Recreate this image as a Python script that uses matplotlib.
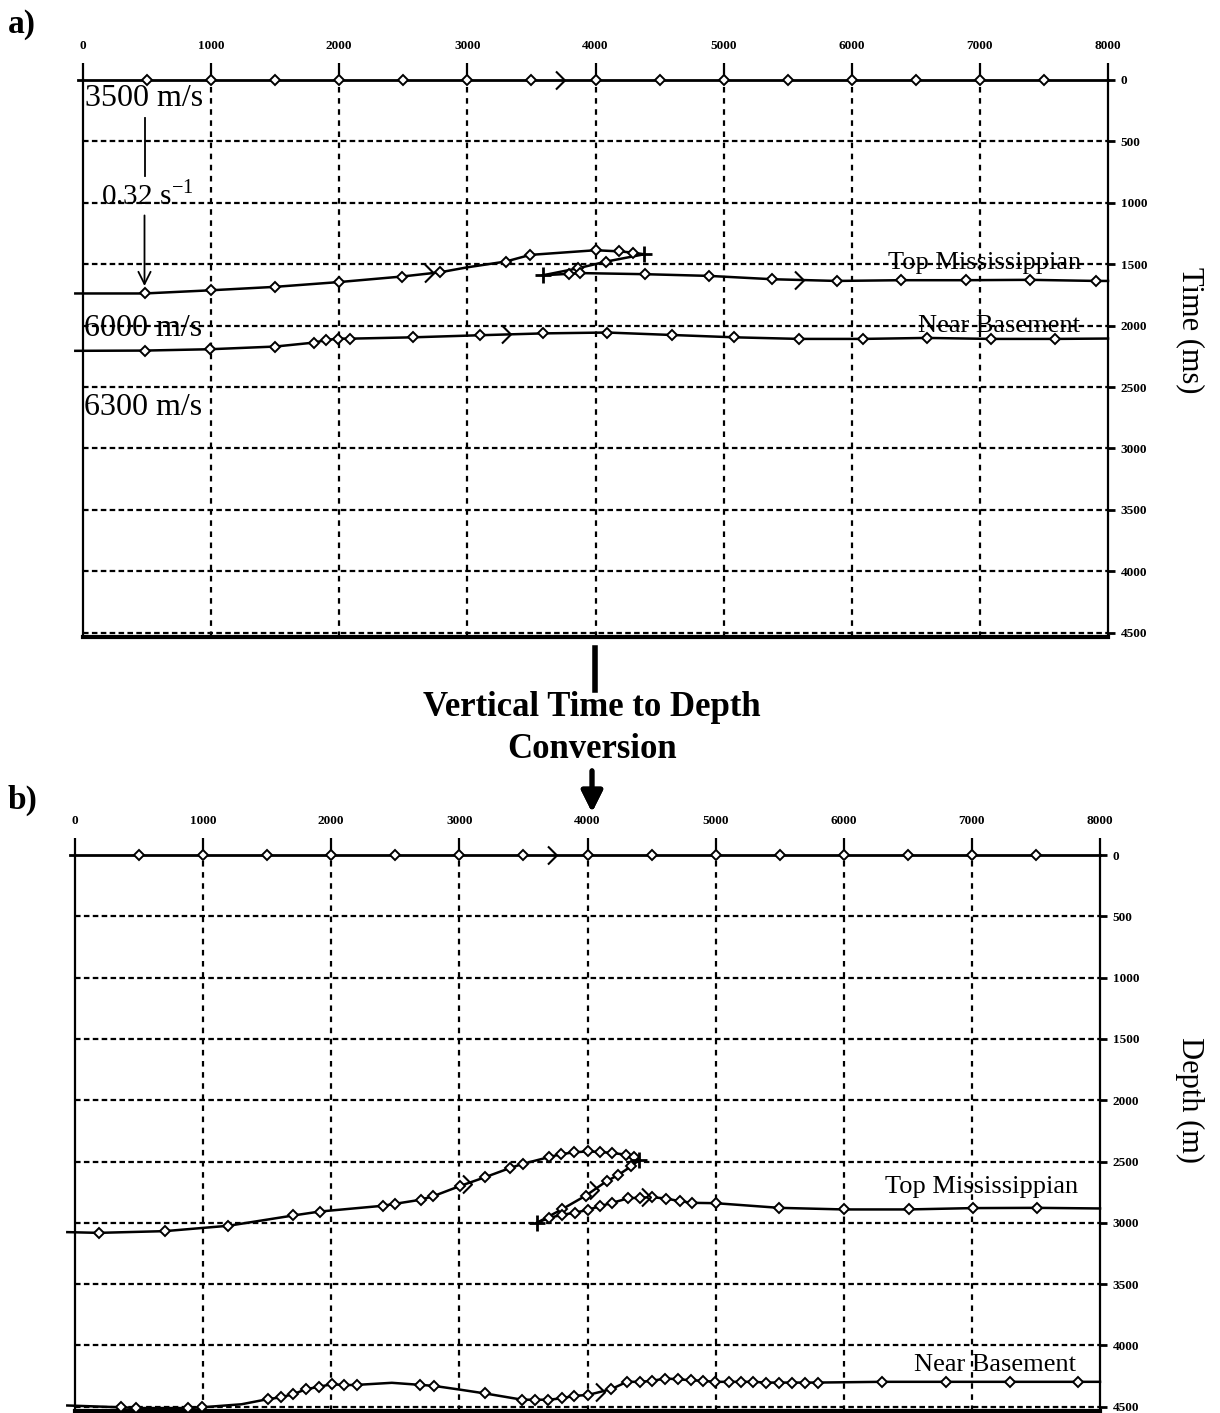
import numpy as np
import matplotlib
matplotlib.use("Agg")
import matplotlib.pyplot as plt
from matplotlib.path import Path
from matplotlib.lines import Line2D

plt.rcParams['font.family'] = ['Liberation Serif', 'DejaVu Serif']
plt.rcParams['mathtext.fontset'] = 'stix'

# ---- horizon picks, panel a (two-way time, ms) ----
surf_x = [-40, 8000]
surf_z = [0, 0]
surf_mk_x = [500, 1000, 1500, 2000, 2500, 3000, 3500, 4000, 4500, 5000, 5500, 6000, 6500, 7000, 7500]

tma_up_x = [-60, 480, 1000, 1500, 2000, 2490, 2790, 3000, 3300, 3490, 4000, 4180, 4290, 4380]
tma_up_t = [1738, 1738, 1712, 1684, 1645, 1600, 1565, 1525, 1478, 1424, 1386, 1395, 1405, 1419]
tma_diag_x = [4380, 4085, 3866, 3590]
tma_diag_t = [1419, 1478, 1532, 1590]
tma_lo_x = [3590, 3790, 3880, 4385, 4888, 5379, 5882, 6388, 6894, 7391, 7910, 8000]
tma_lo_t = [1590, 1578, 1572, 1581, 1595, 1622, 1636, 1630, 1630, 1627, 1636, 1636]

nba_x = [-60, 480, 994, 1502, 1803, 1895, 1988, 2080, 2578, 3102, 3594, 4090, 4596, 5084,
         5590, 6087, 6584, 7087, 7590, 8000]
nba_t = [2205, 2203, 2192, 2170, 2138, 2118, 2105, 2106, 2095, 2078, 2063, 2056, 2076, 2095,
         2108, 2108, 2100, 2108, 2108, 2105]

chev_a_x = [3720, 2700, 5590, 3300]
chev_a_t = [0, 1575, 1632, 2072]
tips_a_x = [4380, 3590]
tips_a_t = [1419, 1590]

# ---- horizon picks, panel b (depth, m) ----
tmb_up_x = [-60, 184, 700, 1198, 1705, 1911, 2403, 2498, 2697, 2796, 3002, 3201, 3398, 3496,
            3696, 3794, 3896, 4000, 4099, 4195, 4299, 4364, 4403]
tmb_up_d = [3076, 3082, 3068, 3024, 2940, 2908, 2861, 2845, 2812, 2783, 2701, 2628, 2552, 2519,
            2465, 2440, 2425, 2418, 2422, 2431, 2444, 2464, 2486]
tmb_diag_x = [4403, 4340, 4240, 4150, 3987, 3800, 3605]
tmb_diag_d = [2486, 2540, 2610, 2660, 2778, 2890, 3000]
tmb_lo_x = [3605, 3700, 3800, 3900, 4000, 4099, 4193, 4317, 4410, 4503, 4612, 4720, 4814, 5000,
            5497, 6000, 6506, 7009, 7505, 8000]
tmb_lo_d = [3000, 2960, 2935, 2918, 2895, 2864, 2837, 2800, 2795, 2791, 2802, 2823, 2837, 2840,
            2878, 2891, 2891, 2880, 2878, 2883]

nbb_x = [-60, 360, 479, 881, 991, 1300, 1506, 1604, 1705, 1804, 1902, 2006, 2101, 2199, 2473,
         2696, 2801, 3000, 3202, 3491, 3589, 3693, 3798, 3896, 4000, 4185, 4307, 4413, 4503,
         4608, 4705, 4804, 4904, 4994, 5105, 5196, 5295, 5392, 5497, 5596, 5699, 5798, 6295,
         6801, 7295, 7825, 8000]
nbb_d = [4490, 4505, 4511, 4511, 4505, 4480, 4438, 4424, 4397, 4357, 4338, 4316, 4324, 4322, 4305,
         4322, 4330, 4360, 4392, 4443, 4443, 4443, 4432, 4411, 4405, 4357, 4297, 4297, 4289,
         4270, 4276, 4284, 4289, 4297, 4297, 4297, 4297, 4303, 4303, 4303, 4303, 4303, 4297,
         4297, 4297, 4297, 4297]
nbb_plain = [0, 5, 14, 17, 46]

chev_b_x = [3720, 3060, 4050, 4460, 4100]
chev_b_d = [0, 2680, 2735, 2792, 4378]
tips_b_x = [4403, 3605]
tips_b_d = [2486, 3000]

xticks = [0, 1000, 2000, 3000, 4000, 5000, 6000, 7000, 8000]
yticks = [0, 500, 1000, 1500, 2000, 2500, 3000, 3500, 4000, 4500]

chevron = Path([(-0.5, 1.0), (0.5, 0.0), (-0.5, -1.0)],
               [Path.MOVETO, Path.LINETO, Path.LINETO])

pick_style = dict(ls='', marker='D', ms=5.5, mfc='white', mec='k', mew=1.4,
                  clip_on=False, zorder=4)


def horizon(ax, x, z, marks=None):
    n = len(x)
    if marks is None:
        marks = list(range(1, n - 1))
    ax.plot(x, z, color='k', lw=1.8, clip_on=False, zorder=3)
    ax.plot([x[i] for i in marks], [z[i] for i in marks], **pick_style)


def frame(ax):
    ax.set_xlim(0, 8000)
    ax.set_ylim(4535, 0)
    for v in xticks[1:-1]:
        ax.axvline(v, color='k', lw=1.6, ls=(0, (2.5, 2.5)), zorder=1)
    for v in yticks[1:]:
        ax.axhline(v, color='k', lw=1.6, ls=(0, (2.5, 1.5)), zorder=1)
    ax.set_xticks(xticks)
    ax.set_yticks(yticks)
    ax.xaxis.tick_top()
    ax.yaxis.tick_right()
    ax.tick_params(axis='x', direction='out', length=12, width=1.6, pad=8, labelsize=9.5)
    ax.tick_params(axis='y', direction='out', length=5, width=2, pad=4, labelsize=9.5)
    for lab in ax.get_xticklabels() + ax.get_yticklabels():
        lab.set_fontweight('bold')
    ax.spines['top'].set_visible(False)
    ax.spines['left'].set_linewidth(1.6)
    ax.spines['right'].set_linewidth(1.6)
    ax.spines['bottom'].set_linewidth(3)
    # surface line with picks
    ax.plot(surf_x, surf_z, color='k', lw=2, clip_on=False, zorder=3)
    ax.plot(surf_mk_x, [0] * len(surf_mk_x), **pick_style)


fig = plt.figure(figsize=(12.2, 14.13), dpi=100)
W, H = 1220, 1413

# ---- panel a: time section ----
axa = fig.add_axes([83 / W, 1 - 637 / H, 1025 / W, 557 / H])
frame(axa)
horizon(axa, tma_up_x, tma_up_t, marks=[1, 2, 3, 4, 5, 6, 8, 9, 10, 11, 12])
horizon(axa, tma_diag_x, tma_diag_t)
horizon(axa, tma_lo_x, tma_lo_t)
horizon(axa, nba_x, nba_t)
axa.plot(chev_a_x, chev_a_t, ls='', marker=chevron, ms=13, mfc='none', mec='k', mew=1.5,
         zorder=5, clip_on=False)
axa.plot(tips_a_x, tips_a_t, ls='', marker='+', ms=12, mec='k', mew=2, zorder=5)

axa.text(15, 150, '3500 m/s', fontsize=23, ha='left', va='center')
axa.plot([480, 480], [310, 780], color='k', lw=1.3)
axa.text(140, 950, '0.32 s$^{\\mathregular{-1}}$', fontsize=21, ha='left', va='center')
axa.annotate('', xy=(480, 1700), xytext=(480, 1080),
             arrowprops=dict(arrowstyle='->', lw=1.3, mutation_scale=22, color='k'))
axa.text(10, 2025, '6000 m/s', fontsize=23, ha='left', va='center')
axa.text(10, 2670, '6300 m/s', fontsize=23, ha='left', va='center')
axa.text(7040, 1488, 'Top Mississippian', fontsize=19, ha='center', va='center')
axa.text(7150, 2003, 'Near Basement', fontsize=19, ha='center', va='center')

# ---- panel b: depth section ----
axb = fig.add_axes([75 / W, 1 - 1411 / H, 1025 / W, 556 / H])
frame(axb)
horizon(axb, tmb_up_x, tmb_up_d)
horizon(axb, tmb_diag_x, tmb_diag_d)
horizon(axb, tmb_lo_x, tmb_lo_d)
horizon(axb, nbb_x, nbb_d, marks=[i for i in range(len(nbb_x)) if i not in nbb_plain])
axb.plot(chev_b_x, chev_b_d, ls='', marker=chevron, ms=13, mfc='none', mec='k', mew=1.5,
         zorder=5, clip_on=False)
axb.plot(tips_b_x, tips_b_d, ls='', marker='+', ms=12, mec='k', mew=2, zorder=5)
axb.text(7073, 2708, 'Top Mississippian', fontsize=19, ha='center', va='center')
axb.text(7182, 4160, 'Near Basement', fontsize=19, ha='center', va='center')

# ---- figure labels ----
fig.text(1190 / W, 1 - 330 / H, 'Time (ms)', rotation=270, fontsize=22, ha='center', va='center')
fig.text(1190 / W, 1 - 1100 / H, 'Depth (m)', rotation=270, fontsize=22, ha='center', va='center')
fig.text(8 / W, 1 - 25 / H, 'a)', fontsize=24, fontweight='bold', ha='left', va='center')
fig.text(8 / W, 1 - 800 / H, 'b)', fontsize=24, fontweight='bold', ha='left', va='center')

fig.add_artist(Line2D([595 / W, 595 / W], [1 - 648 / H, 1 - 690 / H], color='k', lw=4))
fig.text(592 / W, 1 - 708 / H, 'Vertical Time to Depth', fontsize=25, fontweight='bold',
         ha='center', va='center')
fig.text(592 / W, 1 - 750 / H, 'Conversion', fontsize=25, fontweight='bold',
         ha='center', va='center')
fig.add_artist(plt.annotate('', xy=(592 / W, 1 - 815 / H), xytext=(592 / W, 1 - 768 / H),
                            xycoords='figure fraction', textcoords='figure fraction',
                            arrowprops=dict(arrowstyle='-|>', lw=3.5, mutation_scale=32,
                                            color='k')))

fig.savefig('out.png', dpi=100)
